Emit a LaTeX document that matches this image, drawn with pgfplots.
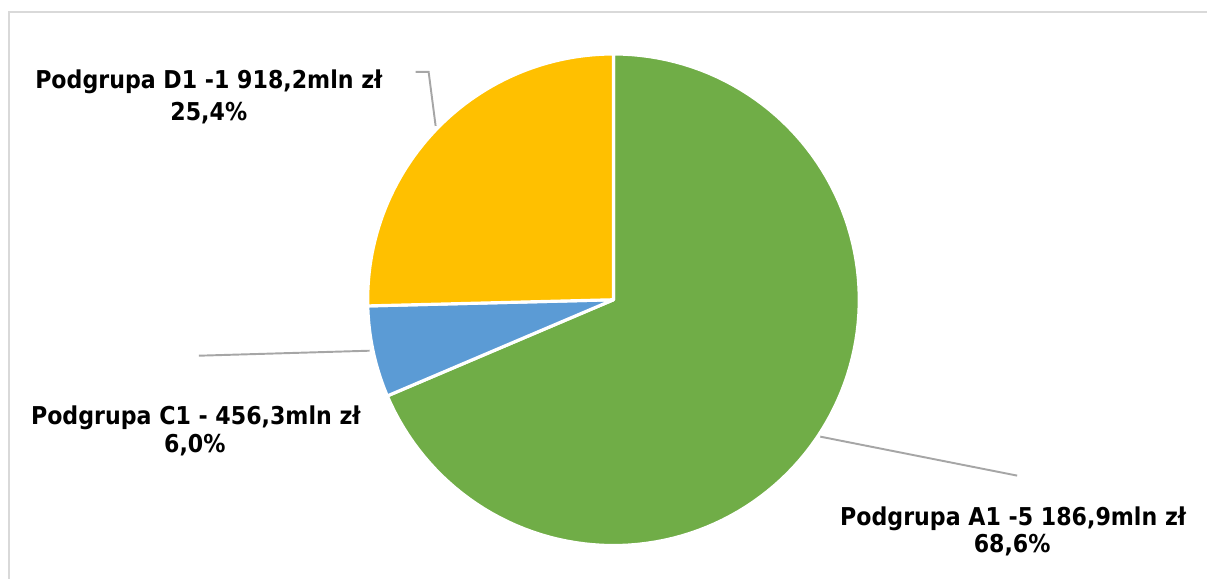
\documentclass[border=0pt]{standalone}
\usepackage{fontspec}
\setmainfont{DejaVu Sans}[FakeStretch=0.9]
\usepackage{pgfplots}
\pgfplotsset{compat=1.18}

\definecolor{gA}{HTML}{70AD47}
\definecolor{bC}{HTML}{5B9BD5}
\definecolor{yD}{HTML}{FFC000}
\definecolor{lead}{HTML}{A6A6A6}
\definecolor{frame}{HTML}{D9D9D9}

% shares in percent
\def\pA{68.6}
\def\pC{6.0}
\def\pD{25.4}

\newcommand{\lbl}{\bfseries\fontsize{7pt}{9pt}\selectfont}

\begin{document}
\begin{tikzpicture}
\begin{axis}[
  width=12.08cm, height=5.79cm, scale only axis,
  xmin=0, xmax=1208, ymin=0, ymax=579,
  axis lines=none, clip=false,
]
\addplot[draw=none] coordinates {(0,0) (1208,579)};
% frame
\draw[frame, line width=0.6pt] (axis cs:9,0) -- (axis cs:9,567) -- (axis cs:1208,567);

% slices, clockwise from the top
\addplot[fill=gA, draw=white, line width=0.9pt, line join=round, domain={90-3.6*\pA}:90, samples=120, variable=\t]
  ({614+246*cos(\t)}, {279+246*sin(\t)}) -- (axis cs:614,279) -- cycle;
\addplot[fill=bC, draw=white, line width=0.9pt, line join=round, domain={90-3.6*(\pA+\pC)}:{90-3.6*\pA}, samples=20, variable=\t]
  ({614+246*cos(\t)}, {279+246*sin(\t)}) -- (axis cs:614,279) -- cycle;
\addplot[fill=yD, draw=white, line width=0.9pt, line join=round, domain={90-3.6*(\pA+\pC+\pD)}:{90-3.6*(\pA+\pC)}, samples=60, variable=\t]
  ({614+246*cos(\t)}, {279+246*sin(\t)}) -- (axis cs:614,279) -- cycle;

% leader lines
\addplot[lead, line width=0.55pt] coordinates {(416,507) (429,507) (436,453)};
\addplot[lead, line width=0.55pt] coordinates {(199,223) (370,228)};
\addplot[lead, line width=0.55pt] coordinates {(821,142) (1018,103)};

% labels
\node[anchor=base, inner sep=0pt] at (axis cs:209,490) {\lbl Podgrupa D1 -1 918,2mln zł};
\node[anchor=base, inner sep=0pt] at (axis cs:209,458) {\lbl 25,4\%};
\node[anchor=base, inner sep=0pt] at (axis cs:196,154) {\lbl Podgrupa C1 - 456,3mln zł};
\node[anchor=base, inner sep=0pt] at (axis cs:195,126) {\lbl 6,0\%};
\node[anchor=base, inner sep=0pt] at (axis cs:1014,53) {\lbl Podgrupa A1 -5 186,9mln zł};
\node[anchor=base, inner sep=0pt] at (axis cs:1013,26) {\lbl 68,6\%};
\end{axis}
\end{tikzpicture}
\end{document}
